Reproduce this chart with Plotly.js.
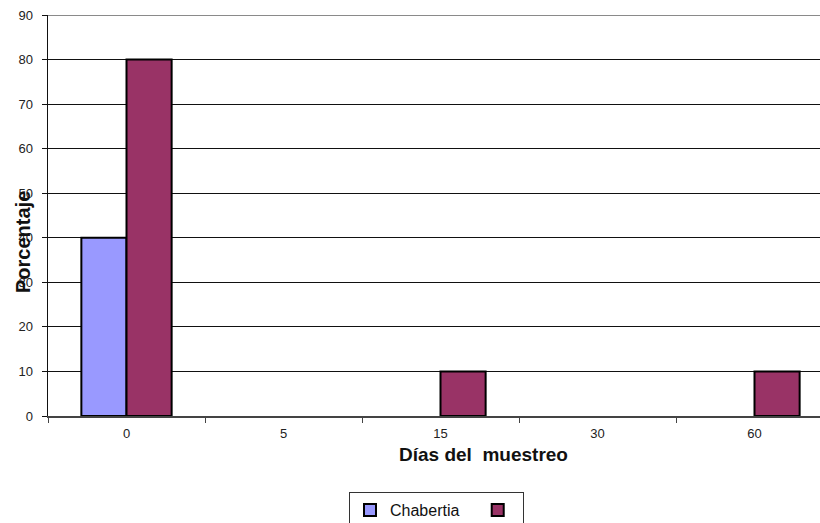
<!DOCTYPE html>
<html>
<head>
<meta charset="utf-8">
<script src="https://cdn.plot.ly/plotly-3.0.1.min.js"></script>
<style>
  html, body { margin: 0; padding: 0; background: #fff; overflow: hidden; width: 820px; height: 523px; }
  #chart { width: 850px; height: 560px; }
</style>
</head>
<body>
<div id="chart"></div>
<script>
// Sampling days (category axis)
const dias = ['0', '5', '15', '30', '60'];
// Percentage per sampling day
const chabertia = [40, 0, 0, 0, 0];
const serie2 = [80, 0, 10, 0, 10];
const nombres = ['Chabertia', ''];
const yTicks = [0, 10, 20, 30, 40, 50, 60, 70, 80, 90];

const W = 850, H = 560;
const M = { l: 48, r: 17, t: 15, b: 144 };
const plotW = W - M.l - M.r, plotH = H - M.t - M.b;
const px = x => (x - M.l) / plotW;          // page x -> paper x
const py = y => (H - M.b - y) / plotH;      // page y -> paper y

// black outline only on bars that have height
const barLine = vals => ({ color: '#000', width: vals.map(v => (v ? 2 : 0)) });

// legend label padded so the next entry sits further right
const etiqueta = s => s + '\u00a0'.repeat(s ? 3 : 0);

const traces = [
  {
    type: 'bar', x: dias, y: chabertia, name: etiqueta(nombres[0]),
    marker: { color: '#9999FF', line: barLine(chabertia) },
    hoverinfo: 'x+y'
  },
  {
    type: 'bar', x: dias, y: serie2, name: etiqueta(nombres[1]),
    marker: { color: '#993366', line: barLine(serie2) },
    hoverinfo: 'x+y'
  }
];

const layout = {
  width: W, height: H,
  margin: M,
  paper_bgcolor: '#fff', plot_bgcolor: '#fff',
  font: { family: 'Liberation Sans, Arial, sans-serif', color: '#222' },
  barmode: 'group',
  bargap: 0.425,
  bargroupgap: 0,
  showlegend: true,
  legend: {
    orientation: 'h',
    x: px(349), xanchor: 'left',
    y: py(492), yanchor: 'top',
    bordercolor: '#333', borderwidth: 1,
    bgcolor: '#fff',
    font: { size: 16, color: '#111' },
    traceorder: 'normal'
  },
  xaxis: {
    type: 'category',
    categoryorder: 'array', categoryarray: dias,
    showgrid: false,
    showline: true, linecolor: '#444', linewidth: 1.5,
    ticks: 'outside', tickson: 'boundaries', ticklen: 5, tickcolor: '#444', tickwidth: 1,
    ticklabelstandoff: 5,
    tickfont: { size: 13, color: '#222' },
    zeroline: false
  },
  yaxis: {
    range: [0, 90],
    tickvals: yTicks,
    showgrid: true, gridcolor: '#111', gridwidth: 1,
    showline: true, linecolor: '#111', linewidth: 1.5,
    ticks: 'outside', ticklen: 5, tickcolor: '#111',
    ticklabelstandoff: 6,
    tickfont: { size: 13, color: '#222' },
    zeroline: false
  },
  shapes: [
    { type: 'line', xref: 'paper', x0: 0, x1: 1, yref: 'y', y0: 90, y1: 90,
      line: { color: '#8a8a8a', width: 2 } }
  ],
  annotations: [
    {
      text: '<b>Días del\u00a0 muestreo</b>',
      xref: 'paper', yref: 'paper', x: px(483), y: py(454),
      xanchor: 'center', yanchor: 'middle', showarrow: false,
      font: { size: 19, color: '#111' }
    },
    {
      text: '<b>Porcentaje</b>',
      xref: 'paper', yref: 'paper', x: px(23), y: py(242),
      xanchor: 'center', yanchor: 'middle', showarrow: false, textangle: -90,
      font: { size: 20, color: '#111' }
    }
  ]
};

Plotly.newPlot('chart', traces, layout, { displayModeBar: false, staticPlot: true });
</script>
</body>
</html>
